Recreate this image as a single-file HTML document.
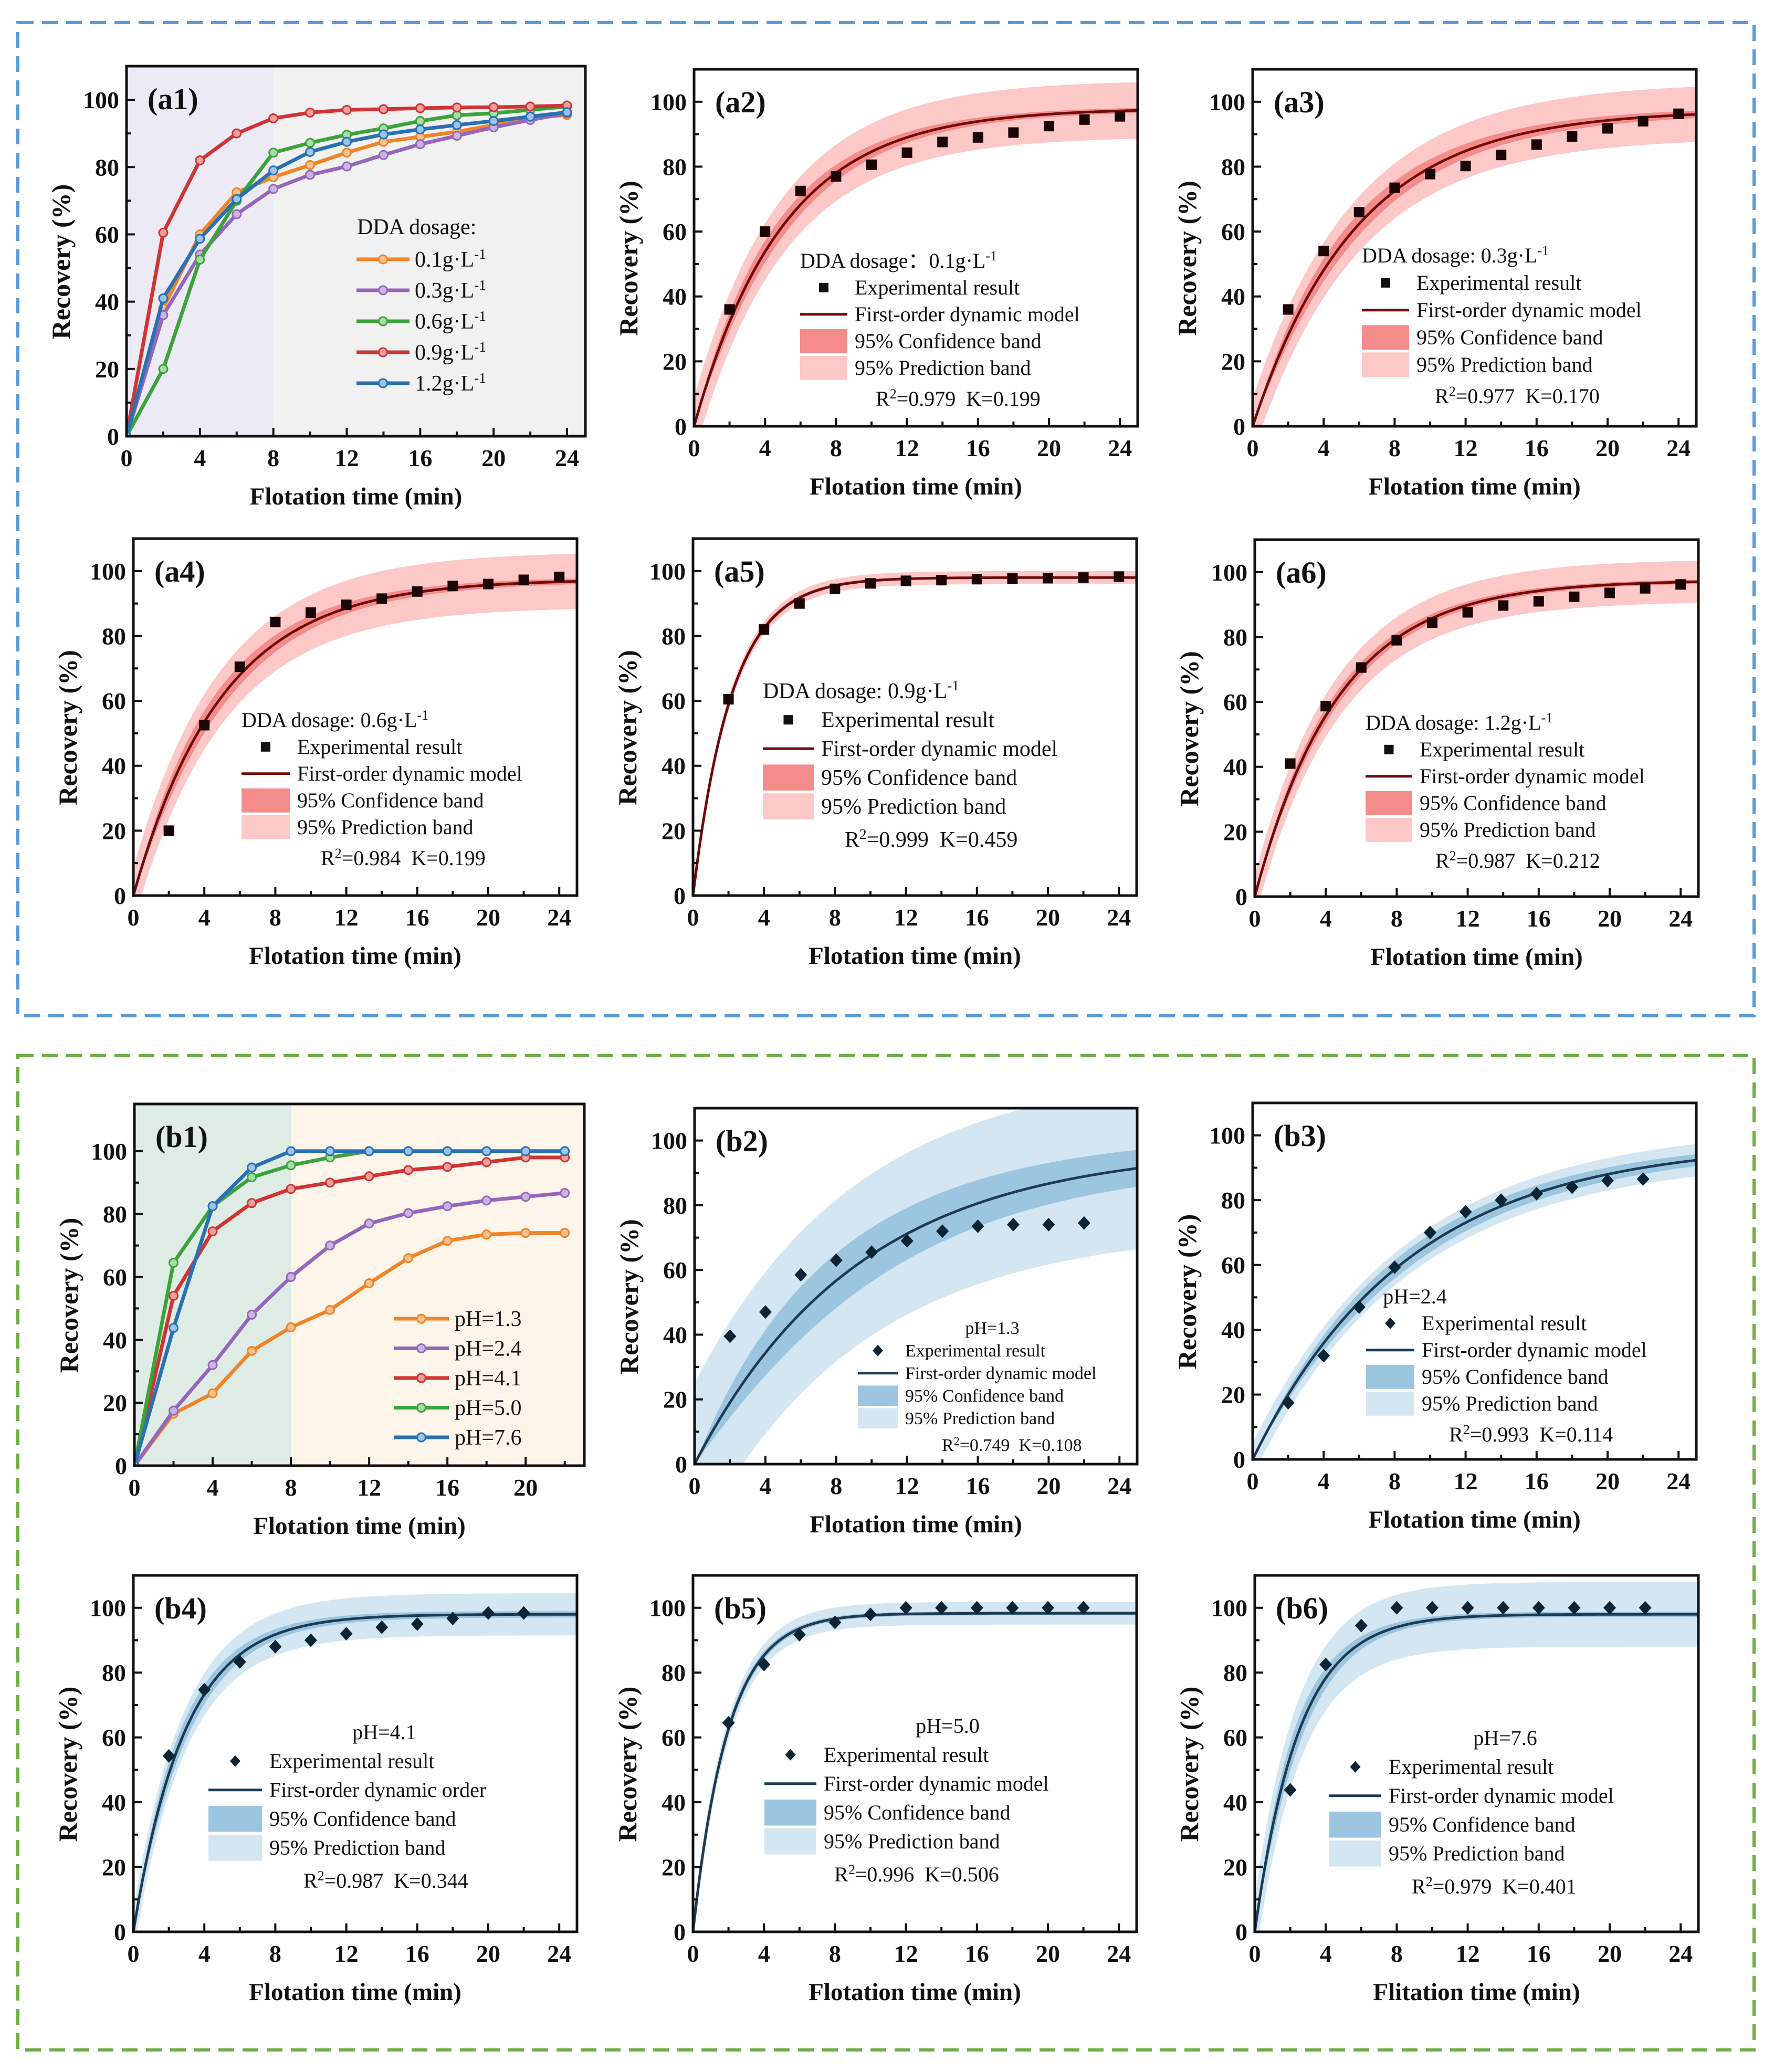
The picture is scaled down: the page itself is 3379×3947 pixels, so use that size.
<!DOCTYPE html>
<html><head><meta charset="utf-8"><style>
html,body{margin:0;padding:0;background:#fff;}
svg{display:block;font-family:"Liberation Serif","DejaVu Serif",serif;}
</style></head><body>
<svg id="fig" xmlns="http://www.w3.org/2000/svg" width="3379" height="3947" viewBox="0 0 3379 3947">
<rect x="0" y="0" width="3379" height="3947" fill="#fff"/>
<rect x="34" y="43" width="3307" height="1892" fill="none" stroke="#5b9bd5" stroke-width="6" stroke-dasharray="30 16"/>
<rect x="34" y="2011" width="3307" height="1894" fill="none" stroke="#70ad47" stroke-width="6" stroke-dasharray="30 16"/>
<g id="root"></g>
</svg>
<script>
// ---------- data ----------
const tFull = [0,2,4,6,8,10,12,14,16,18,20,22,24];
const tB1 = [0,2,4,6,8,10,12,14,16,18,20,22];
const tExpA = [2,4,6,8,10,12,14,16,18,20,22,24];
const tExpB = [2,4,6,8,10,12,14,16,18,20,22];
const a1Labels = ["0.1","0.3","0.6","0.9","1.2"];
const a1S01 = [0,38,60,72.5,77,80.6,84.3,87.5,89,90.5,92.5,94.5,95.5];
const a1S03 = [0,36,54,66,73.5,77.7,80.2,83.6,86.8,89.3,91.8,94,96];
const a1S06 = [0,20,52.5,70,84.3,87.2,89.6,91.5,93.7,95.4,96,97,98];
const a1S09 = [0,60.5,82,90,94.5,96.2,97,97.2,97.5,97.7,97.8,98,98.3];
const a1S12 = [0,41,58.7,70.5,79,84.5,87.5,89.7,91.2,92.5,93.7,95,96.3];
const b1Labels = ["1.3","2.4","4.1","5.0","7.6"];
const b1S13 = [0,16.5,23,36.5,44,49.5,58,66,71.5,73.5,74,74];
const b1S24 = [0,17.5,32,48,60,70,77,80.3,82.5,84.3,85.5,86.7];
const b1S41 = [0,54,74.5,83.5,88,90,92,94,95,96.5,98,98];
const b1S50 = [0,64.5,82.5,91.7,95.5,98,100,100,100,100,100,100];
const b1S76 = [0,43.8,82.5,94.8,100,100,100,100,100,100,100,100];
const a2Exp = [36,60,72.5,77,80.6,84.3,87.6,89,90.5,92.5,94.5,95.5];
const a3Exp = [36,54,66,73.5,77.7,80.2,83.6,86.8,89.3,91.8,94,96.3];
const a4Exp = [20,52.5,70.5,84.3,87.2,89.6,91.5,93.7,95.4,96,97.3,98.2];
const a5Exp = [60.5,82,90,94.5,96.2,97,97.2,97.5,97.7,97.8,98,98.3];
const a6Exp = [41,58.7,70.6,79,84.4,87.6,89.7,91,92.4,93.6,95,96.2];
const b2Exp = [39.5,47,58.5,63,65.5,69,72,73.5,74,74,74.5];
const b3Exp = [17.5,32,47,59.3,70,76.4,80,82,84,86,86.5];
const b4Exp = [54.3,74.7,83.3,88,90,92,94,95,96.7,98.4,98.4];
const b5Exp = [64.5,82.5,91.7,95.5,98,100,100,100,100,100,100];
const b6Exp = [43.8,82.5,94.5,100,100,100,100,100,100,100,100];
// fit panels order: a2,a3,a4,a5,a6,b2,b3,b4,b5,b6
const fitA = [98,97.5,97.5,98,97.5,98,98,98,98.3,98];
const fitK = [0.199,0.170,0.199,0.459,0.212,0.108,0.114,0.344,0.506,0.401];
const fitR2 = ["0.979","0.977","0.984","0.999","0.987","0.749","0.993","0.987","0.996","0.979"];
const piHalf = [8.7,8.5,8.5,2,6.5,25,5,6.5,3.5,10];
const ciMid = [3,3,3,1,2,6,2,3,1.5,4];
const ciEnd = [0.7,1,0.8,0.4,0.6,4.5,1.5,1,0.6,0.8];
const yTicks = [0,20,40,60,80,100];
const xTicksA = [0,4,8,12,16,20,24];
const xTicksB1 = [0,4,8,12,16,20];

// ---------- helpers ----------
const NS = "http://www.w3.org/2000/svg";
const root = document.getElementById('root');
function mk(tag, attrs, parent){
  const e = document.createElementNS(NS, tag);
  for (const k in attrs) e.setAttribute(k, attrs[k]);
  (parent||root).appendChild(e);
  return e;
}
let clipId = 0;

function drawPanel(p){
  const g = mk('g', {});
  
  
  const L=p.L,R=p.R,T=p.T,B=p.B;
  const xs = t => L + t/p.xmax*(R-L);
  const ys = v => B - v/p.ymax*(B-T);
  const cid = 'clip'+(clipId++);
  const cp = mk('clipPath', {id:cid}, g);
  mk('rect', {x:L,y:T,width:R-L,height:B-T}, cp);
  const inner = mk('g', {'clip-path':'url(#'+cid+')'}, g);
  if (p.bg){
    const r1 = mk('rect', {x:L,y:T,width:xs(8)-L,height:B-T,fill:p.bg[0]}, inner);
    
    
    const r2 = mk('rect', {x:xs(8),y:T,width:R-xs(8),height:B-T,fill:p.bg[1]}, inner);
    
    
  }
  if (p.fit !== undefined){
    const i = p.fit, A = fitA[i], K = fitK[i];
    const model = t => A*(1-Math.exp(-K*t));
    const ci = t => { const f = 1-Math.exp(-K*t); return ciMid[i]*4*f*(1-f) + ciEnd[i]*f; };
    const ts = []; for (let t=0;t<=p.xmax+0.001;t+=0.1) ts.push(t);
    function band(fn, fill, name){
      let d = 'M' + ts.map(t => xs(t).toFixed(1)+','+ys(model(t)+fn(t)).toFixed(1)).join(' L');
      d += ' L' + ts.slice().reverse().map(t => xs(t).toFixed(1)+','+ys(model(t)-fn(t)).toFixed(1)).join(' L') + ' Z';
      const e = mk('path', {d:d, fill:fill}, inner);
      
      
    }
    band(t => piHalf[i], p.col.pi, 'prediction-band');
    band(ci, p.col.ci, 'confidence-band');
    const d = 'M' + ts.map(t => xs(t).toFixed(1)+','+ys(model(t)).toFixed(1)).join(' L');
    const c = mk('path', {d:d, fill:'none', stroke:p.col.line, 'stroke-width':5}, inner);
    
    
    p.exp.forEach((v,j) => {
      const cx = xs(p.texp[j]), cy = ys(v);
      let m;
      if (p.marker === 'sq') m = mk('rect', {x:cx-10,y:cy-10,width:20,height:20,fill:'#1a0606'}, g);
      else m = mk('path', {d:`M${cx},${cy-13} L${cx+12},${cy} L${cx},${cy+13} L${cx-12},${cy} Z`, fill:'#0d2435'}, g);
      
      
    });
  }
  if (p.series){
    p.series.forEach((s,si) => {
      const pts = s.vals.map((v,j) => xs(p.tx[j]).toFixed(1)+','+ys(v).toFixed(1)).join(' ');
      const pl = mk('polyline', {points:pts, fill:'none', stroke:s.color, 'stroke-width':7, 'stroke-linejoin':'round'}, inner);
      
      
      s.vals.forEach((v,j) => {
        const m = mk('circle', {cx:xs(p.tx[j]), cy:ys(v), r:8, fill:s.light, stroke:s.color, 'stroke-width':3}, inner);
        
        
      });
    });
  }
  const fr = mk('rect', {x:L,y:T,width:R-L,height:B-T,fill:'none',stroke:'#111','stroke-width':5}, g);
  
  
  for (let v=0; v<=100; v+=10){
    const len = v%20===0 ? 16 : 9;
    const tk = mk('line', {x1:L,x2:L+len,y1:ys(v),y2:ys(v),stroke:'#111','stroke-width':4}, g);
    
    
  }
  yTicks.forEach(v => {
    const t = mk('text', {x:L-14,y:ys(v)+16,'text-anchor':'end','font-size':46,'font-weight':'bold',fill:'#111'}, g);
    t.textContent = v;
    
    
  });
  for (let t=0; t<=p.xmax; t+=2){
    const len = t%4===0 ? 16 : 9;
    const tk = mk('line', {x1:xs(t),x2:xs(t),y1:B,y2:B-len,stroke:'#111','stroke-width':4}, g);
    
    
  }
  p.xticks.forEach(v => {
    const t = mk('text', {x:xs(v),y:B+57,'text-anchor':'middle','font-size':46,'font-weight':'bold',fill:'#111'}, g);
    t.textContent = v;
    
    
  });
  const xt = mk('text', {x:(L+R)/2,y:B+130,'text-anchor':'middle','font-size':47,'font-weight':'bold',fill:'#111'}, g);
  xt.textContent = p.xtitle || 'Flotation time (min)';
  
  
  const ycy = (T+B)/2 + 20;
  const yt = mk('text', {x:L-108,y:ycy,'text-anchor':'middle','font-size':50,'font-weight':'bold',fill:'#111',transform:`rotate(-90 ${L-108} ${ycy})`}, g);
  yt.textContent = 'Recovery (%)';
  
  
  const pl = mk('text', {x:L+40,y:T+82,'font-size':58,'font-weight':'bold',fill:'#111'}, g);
  pl.textContent = '(' + p.id + ')';
  
  
  if (p.fit !== undefined) drawFitLegend(p, g);
  if (p.series) drawSeriesLegend(p, g);
}

function sup(parent, base, s){
  const t1 = mk('tspan', {}, parent); t1.textContent = base;
  const t2 = mk('tspan', {'baseline-shift':'super','font-size':'65%'}, parent); t2.textContent = s;
}

function drawFitLegend(p, g){
  const lg = p.lg, L = p.L + lg.x0, tx = p.L + lg.tx, y0 = p.T + lg.y0, dy = lg.dy, fs = lg.fs;
  const i = p.fit;
  const grp = mk('g', {}, g);
  
  
  let title;
  if (lg.cx !== undefined) title = mk('text', {x:p.L+lg.cx,y:y0,'text-anchor':'middle','font-size':fs,fill:'#111'}, grp);
  else title = mk('text', {x:L,y:y0,'font-size':fs,fill:'#111'}, grp);
  if (p.titleSup) { sup(title, p.title, '-1'); } else title.textContent = p.title;
  
  
  const bw = tx - L - 14;
  const rows = ['Experimental result', p.modelLabel || 'First-order dynamic model', '95% Confidence band', '95% Prediction band'];
  rows.forEach((r,k) => {
    const by = y0 + dy*(k+1);
    const t = mk('text', {x:tx,y:by,'font-size':fs,fill:'#111'}, grp);
    t.textContent = r;
    
    
    const cy = by - fs*0.33;
    let s;
    if (k===0){
      const cx = L + bw*0.5;
      if (p.marker==='sq') s = mk('rect', {x:cx-9,y:cy-9,width:18,height:18,fill:'#111'}, grp);
      else s = mk('path', {d:`M${cx},${cy-11} L${cx+10},${cy} L${cx},${cy+11} L${cx-10},${cy} Z`, fill:'#0d2435'}, grp);
    } else if (k===1){
      s = mk('line', {x1:L,x2:L+bw,y1:cy,y2:cy,stroke:p.col.line,'stroke-width':5}, grp);
    } else {
      s = mk('rect', {x:L,y:cy-dy*0.45,width:bw,height:dy*0.9,fill:k===2?p.col.ci:p.col.pi}, grp);
    }
    
    
  });
  const rt = mk('text', {x:p.L+lg.rx,y:y0+dy*5+8,'font-size':fs,fill:'#111'}, grp);
  sup(rt, 'R', '2');
  const t3 = mk('tspan', {}, rt); t3.textContent = '=' + fitR2[i] + '\u00a0\u00a0K=' + fitK[i].toFixed(3);
  
  
}

function drawSeriesLegend(p, g){
  const lg = p.lg;
  const grp = mk('g', {}, g);
  
  
  if (lg.title){
    const t = mk('text', {x:lg.tx-110,y:lg.y0-48,'font-size':lg.fs,fill:'#111'}, grp);
    t.textContent = lg.title;
    
    
  }
  p.series.forEach((s,k) => {
    const cy = lg.y0 + lg.dy*k;
    const ln = mk('line', {x1:lg.x0,x2:lg.x1,y1:cy,y2:cy,stroke:s.color,'stroke-width':7}, grp);
    
    
    const c = mk('circle', {cx:(lg.x0+lg.x1)/2,cy:cy,r:8,fill:s.light,stroke:s.color,'stroke-width':3}, grp);
    
    
    const t = mk('text', {x:lg.tx,y:cy+14,'font-size':lg.fs,fill:'#111'}, grp);
    if (p.id==='a1') sup(t, s.label + 'g\u00b7L', '-1'); else t.textContent = 'pH=' + s.label;
    
    
  });
}

const RED = {pi:'#fcc8c8', ci:'#f58c8c', line:'#6e0c0c'};
const BLUE = {pi:'#d4e6f2', ci:'#9cc6df', line:'#1d3b52'};
const C_OR=['#f08428','#f8c08a'], C_PU=['#9467bd','#cdb4e0'], C_GR=['#3ca33c','#a8dca8'], C_RD=['#d03434','#eea0a0'], C_BL=['#2a70b3','#9cc4ea'];
const COLS_A = [C_OR,C_PU,C_GR,C_RD,C_BL];
const COLS_B = [C_OR,C_PU,C_RD,C_GR,C_BL];

drawPanel({id:'a1', L:241,R:1115,T:126,B:831, xmax:25, ymax:110, xticks:xTicksA, tx:tFull, bg:['#ecebf5','#f1f1f1'],
  series:[a1S01,a1S03,a1S06,a1S09,a1S12].map((v,k)=>({vals:v,key:'dda-'+a1Labels[k],label:a1Labels[k],color:COLS_A[k][0],light:COLS_A[k][1]})),
  lg:{x0:679,x1:780,tx:790,y0:494,dy:59,fs:42,title:'DDA dosage:'}});
drawPanel({id:'b1', L:256,R:1113,T:2103,B:2792, xmax:23, ymax:115, xticks:xTicksB1, tx:tB1, bg:['#dfece5','#fdf5ea'],
  series:[b1S13,b1S24,b1S41,b1S50,b1S76].map((v,k)=>({vals:v,key:'ph-'+b1Labels[k],label:b1Labels[k],color:COLS_B[k][0],light:COLS_B[k][1]})),
  lg:{x0:750,x1:855,tx:866,y0:2512,dy:56.5,fs:42}});

const fitPanels = [
  {id:'a2',L:1322,R:2167,T:132,B:812,fit:0,exp:a2Exp,title:'DDA dosage\uff1a0.1g\u00b7L',lg:{x0:202,tx:306,y0:378,dy:51,rx:346,fs:40}},
  {id:'a3',L:2386,R:3231,T:132,B:812,fit:1,exp:a3Exp,title:'DDA dosage: 0.3g\u00b7L',lg:{x0:208,tx:312,y0:368,dy:52,rx:347,fs:40}},
  {id:'a4',L:254,R:1099,T:1026,B:1706,fit:2,exp:a4Exp,title:'DDA dosage: 0.6g\u00b7L',lg:{x0:206,tx:312,y0:359,dy:51,rx:357,fs:40}},
  {id:'a5',L:1320,R:2165,T:1026,B:1706,fit:3,exp:a5Exp,title:'DDA dosage: 0.9g\u00b7L',lg:{x0:133,tx:244,y0:304,dy:55,rx:289,fs:42}},
  {id:'a6',L:2390,R:3235,T:1028,B:1708,fit:4,exp:a6Exp,title:'DDA dosage: 1.2g\u00b7L',lg:{x0:211,tx:314,y0:362,dy:51,rx:344,fs:40}},
  {id:'b2',L:1323,R:2166,T:2111,B:2789,fit:5,exp:b2Exp,title:'pH=1.3',lg:{x0:311,tx:401,y0:430,dy:43,rx:471,cx:567,fs:34}},
  {id:'b3',L:2386,R:3231,T:2101,B:2780,fit:6,exp:b3Exp,title:'pH=2.4',lg:{x0:216,tx:322,y0:382,dy:51,rx:374,cx:309,fs:40}},
  {id:'b4',L:254,R:1099,T:3001,B:3680,fit:7,exp:b4Exp,title:'pH=4.1',modelLabel:'First-order dynamic order',lg:{x0:143,tx:259,y0:312,dy:55,rx:324,cx:478,fs:40}},
  {id:'b5',L:1320,R:2165,T:3001,B:3680,fit:8,exp:b5Exp,title:'pH=5.0',lg:{x0:136,tx:249,y0:300,dy:55,rx:269,cx:485,fs:40}},
  {id:'b6',L:2390,R:3235,T:3001,B:3680,fit:9,exp:b6Exp,title:'pH=7.6',xtitle:'Flitation time (min)',lg:{x0:142,tx:255,y0:323,dy:55,rx:299,cx:477,fs:40}}
];
fitPanels.forEach(p => {
  const isA = p.id[0]==='a';
  p.xmax = 25; p.ymax = 110; p.xticks = xTicksA;
  p.texp = isA ? tExpA : tExpB;
  p.marker = isA ? 'sq' : 'dia';
  p.col = isA ? RED : BLUE;
  p.titleSup = isA;
  drawPanel(p);
});
</script>
</body></html>
